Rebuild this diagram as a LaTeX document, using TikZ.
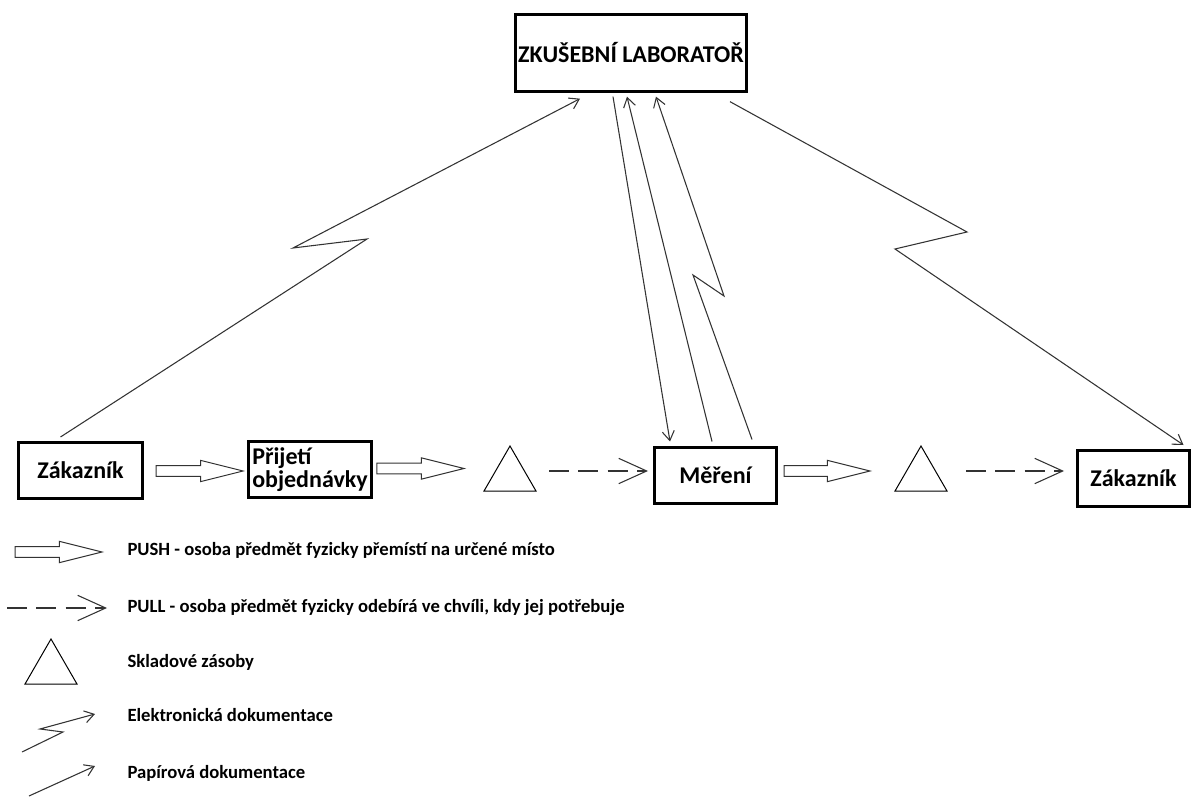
\documentclass[tikz,border=0pt]{standalone}
\usepackage{fontspec}
\setmainfont{Carlito}
\usetikzlibrary{arrows.meta,calc,shapes.geometric}

\newcommand{\pusharrow}[2]{%
  \draw[pushline] let \p1=(#1), \p2=(#2) in
    (\x1,\y1+4pt) -- (\x2-32pt,\y1+4pt) -- (\x2-32pt,\y1+8pt) -- (\x2,\y1)
    -- (\x2-32pt,\y1-8pt) -- (\x2-32pt,\y1-4pt) -- (\x1,\y1-4pt) -- cycle;}

\begin{document}
\begin{tikzpicture}[x=0.75pt,y=-0.75pt,line width=0.8pt,
    box/.style={draw,line width=2.25pt,inner sep=0pt,font=\bfseries\fontsize{18}{17}\selectfont},
    sklad/.style={draw,regular polygon,regular polygon sides=3,minimum size=45pt,inner sep=0pt,line width=0.75pt},
    pushline/.style={draw=black!80,line width=0.75pt},
    pull/.style={draw=black!80,dash pattern=on 15pt off 7pt,-{Straight Barb[length=21pt,width=19pt]}},
    doc/.style={draw=black!80,-{Straight Barb[length=7pt,width=9pt]}},
    legtext/.style={anchor=west,inner sep=0pt,font=\bfseries\fontsize{14}{16}\selectfont}]
    \useasboundingbox (0,0) rectangle (1192,798);

    \node[box,minimum width=173pt,minimum height=58pt] (lab) at (631,53) {ZKUŠEBNÍ LABORATOŘ};
    \node[box,minimum width=93pt,minimum height=42pt] (zak1) at (80.5,470.5) {Zákazník};
    \node[box,minimum width=92pt,minimum height=42pt,align=left] (prij) at (310,469.5) {Přijetí\\objednávky};
    \node[sklad] (sklad1) at (510,476) {};
    \node[box,minimum width=91.5pt,minimum height=42pt] (mer) at (715.5,475.5) {Měření};
    \node[sklad] (sklad2) at (921,476) {};
    \node[box,minimum width=84pt,minimum height=42pt] (zak2) at (1133.5,478.5) {Zákazník};

    \coordinate (p1a) at ($(zak1.east)+(12,0.5)$);
    \coordinate (p1b) at ($(prij.west)+(-4,1.5)$);
    \coordinate (p2a) at ($(prij.east)+(4,-1)$);
    \coordinate (p2b) at ($(sklad1.center)+(-46,-7.5)$);
    \coordinate (p3a) at ($(mer.east)+(6,-4.5)$);
    \coordinate (p3b) at ($(sklad2.center)+(-51,-5)$);
    \pusharrow{p1a}{p1b}
    \pusharrow{p2a}{p2b}
    \pusharrow{p3a}{p3b}

    \draw[pull] ($(sklad1.center)+(39,-5)$) -- ($(mer.west)+(-5,-4.5)$);
    \draw[pull] ($(sklad2.center)+(45,-5)$) -- ($(zak2.west)+(-12,-7.5)$);

    \coordinate (zigL1) at (367,239);
    \coordinate (zigL2) at (293,248);
    \draw[doc] ($(zak1.north)+(-20,-4)$) -- (zigL1) -- (zigL2) -- ($(lab.south)+(-51,5.5)$);
    \coordinate (zigR1) at (967,232);
    \coordinate (zigR2) at (895,249);
    \draw[doc] ($(lab.south)+(99,8.5)$) -- (zigR1) -- (zigR2) -- ($(zak2.north)+(50,-4)$);
    \draw[doc] ($(lab.south)+(-18,3.5)$) -- ($(mer.north)+(-45.5,-4.5)$);
    \draw[doc] ($(mer.north)+(-3.5,-4.5)$) -- ($(lab.south)+(-4,3.5)$);
    \coordinate (zigM1) at (693,275);
    \coordinate (zigM2) at (724,296);
    \draw[doc] ($(mer.north)+(36.5,-6.5)$) -- (zigM1) -- (zigM2) -- ($(lab.south)+(25,3.5)$);

    \node[legtext] (lpush) at (127,550) {PUSH - osoba předmět fyzicky přemístí na určené místo};
    \node[legtext] (lpull) at (127,608) {PULL - osoba předmět fyzicky odebírá ve chvíli, kdy jej potřebuje};
    \node[legtext] (lsklad) at (127,662) {Skladové zásoby};
    \node[legtext] (lel) at (127,715) {Elektronická dokumentace};
    \node[legtext] (lpap) at (127,773) {Papírová dokumentace};

    \coordinate (lp1) at (15,552);
    \coordinate (lp2) at (102,552);
    \pusharrow{lp1}{lp2}
    \draw[pull] (7,608) -- (107,608);
    \node[sklad] (lsk) at (51,669) {};
    \draw[doc] (22,752) -- (63,732) -- (40,729) -- (95,714);
    \draw[doc] (29,796) -- (95,766);
\end{tikzpicture}
\end{document}
